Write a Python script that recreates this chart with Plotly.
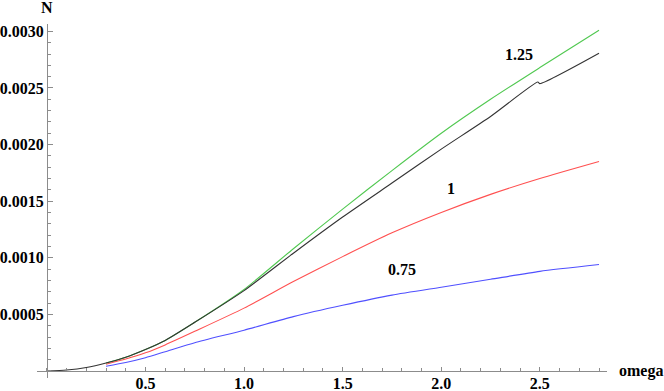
import plotly.graph_objects as go

# ---- data ----
omega_black = [0.0, 0.1, 0.2, 0.3, 0.4, 0.5, 0.6, 0.75, 1.0, 1.25, 1.5, 1.75, 2.0, 2.25, 2.49, 2.5, 2.8]
n_black = [0.0, 0.000008, 0.00003, 0.00007, 0.000122, 0.00019, 0.00027, 0.00043, 0.00071,
           0.00104, 0.00136, 0.00166, 0.00196, 0.002248, 0.002552, 0.002538, 0.002806]

omega_c = [0.3, 0.4, 0.5, 0.6, 0.75, 1.0, 1.25, 1.5, 1.75, 2.0, 2.25, 2.5, 2.8]
n_125 = [0.00007, 0.000122, 0.00019, 0.00027, 0.00043, 0.00072, 0.00108, 0.00143,
         0.00177, 0.0021, 0.0024, 0.00268, 0.00301]
n_100 = [0.00006, 0.000105, 0.00016, 0.00023, 0.00035, 0.000555, 0.00079, 0.00101,
         0.00122, 0.0014, 0.00156, 0.0017, 0.00185]
n_075 = [0.000042, 0.000075, 0.000117, 0.00017, 0.00025, 0.00036, 0.00048, 0.00058,
         0.00067, 0.00074, 0.00081, 0.00088, 0.00094]

x_tickvals = [0.5, 1.0, 1.5, 2.0, 2.5]
x_ticktext = ["0.5", "1.0", "1.5", "2.0", "2.5"]
y_tickvals = [0.0005, 0.0010, 0.0015, 0.0020, 0.0025, 0.0030]
y_ticktext = ["0.0005", "0.0010", "0.0015", "0.0020", "0.0025", "0.0030"]

curve_labels = ["1.25", "1", "0.75"]

FONT = "Liberation Serif, Times New Roman, serif"
AXC = "#8c8c8c"
TXT = dict(family=FONT, size=16, color="black", weight="bold")

fig = go.Figure()
line_kw = dict(width=1.1, shape="spline", smoothing=0.6)
fig.add_trace(go.Scatter(x=omega_c, y=n_075, mode="lines", line=dict(color="rgb(80,80,255)", **line_kw)))
fig.add_trace(go.Scatter(x=omega_c, y=n_100, mode="lines", line=dict(color="rgb(255,80,80)", **line_kw)))
fig.add_trace(go.Scatter(x=omega_c, y=n_125, mode="lines", line=dict(color="rgb(80,200,80)", **line_kw)))
fig.add_trace(go.Scatter(x=omega_black, y=n_black, mode="lines", line=dict(color="#333333", **line_kw)))

label_pos = [(2.393, 0.002792), (2.047, 0.001614), (1.799, 0.000892)]
for txt, (lx, ly) in zip(curve_labels, label_pos):
    fig.add_annotation(x=lx, y=ly, xref="x", yref="y", text=txt, showarrow=False, font=TXT)

xr = [-0.05, 2.8405]
yr = [-0.0000622, 0.003065]
L, R, T, B, W, H = 37, 57, 24, 13, 664, 391
pw, ph = W - L - R, H - T - B

x0_frac = (0 - xr[0]) / (xr[1] - xr[0])
y0_frac = (0 - yr[0]) / (yr[1] - yr[0])
fig.add_annotation(x=x0_frac, y=(H - 8 - B) / ph, xref="paper", yref="paper", text="N",
                   showarrow=False, font=TXT, xanchor="center", yanchor="middle")
fig.add_annotation(x=(640.5 - L) / pw, y=y0_frac, xref="paper", yref="paper", text="omega",
                   showarrow=False, font=TXT, xanchor="center", yanchor="middle")

fig.update_layout(
    width=W, height=H,
    margin=dict(l=L, r=R, t=T, b=B, autoexpand=False),
    paper_bgcolor="white", plot_bgcolor="white",
    showlegend=False,
    xaxis=dict(range=xr, showgrid=False, zeroline=False, showline=True, linecolor=AXC, linewidth=1,
               anchor="free", position=y0_frac, automargin=False,
               tickmode="array", tickvals=x_tickvals, ticktext=x_ticktext,
               ticks="inside", ticklen=4, tickcolor=AXC, tickwidth=1, ticklabelstandoff=-2,
               minor=dict(tickmode="linear", tick0=0, dtick=0.1, ticks="inside", ticklen=2.5,
                          tickcolor=AXC, tickwidth=1),
               tickfont=TXT),
    yaxis=dict(range=yr, showgrid=False, zeroline=False, showline=True, linecolor=AXC, linewidth=1,
               anchor="free", position=x0_frac, automargin=False,
               tickmode="array", tickvals=y_tickvals, ticktext=y_ticktext,
               ticks="inside", ticklen=5, tickcolor=AXC, tickwidth=1,
               minor=dict(tickmode="linear", tick0=0, dtick=0.0001, ticks="inside", ticklen=3,
                          tickcolor=AXC, tickwidth=1),
               tickfont=TXT),
)

fig.write_html("out.html", config={"displayModeBar": False},
               post_script="document.body.style.margin='0';document.body.style.overflow='hidden';")
